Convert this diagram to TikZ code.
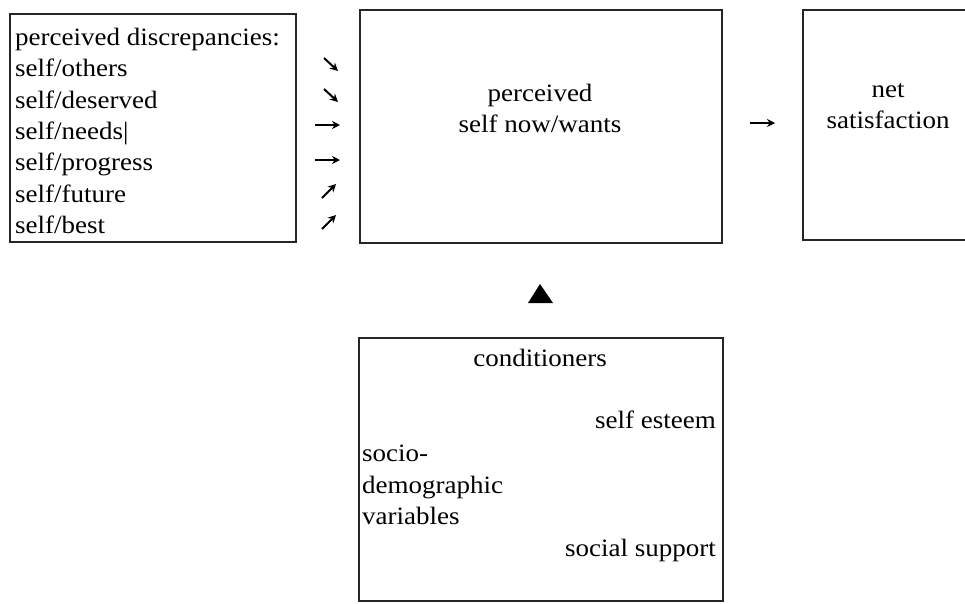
\documentclass[tikz,border=0pt]{standalone}
\usepackage{fontspec}
\setmainfont[FakeStretch=1.08]{Liberation Serif}
\usetikzlibrary{arrows.meta}
\begin{document}
\begin{tikzpicture}[x=1pt,y=-1pt,
  frame/.style={draw=black!85,line width=1.6pt},
  label/.style={font=\fontsize{25}{31}\selectfont,inner sep=0pt},
  smallarrow/.style={line width=2pt,-{Stealth[length=8pt,width=8pt]}}]
\useasboundingbox (0,0) rectangle (965,603);
% boxes
\draw[frame] (10,14) rectangle (296,242);
\draw[frame] (360,10) rectangle (722,243);
\draw[frame] (966,10) -- (803,10) -- (803,240) -- (966,240);
\draw[frame] (359,338) rectangle (723,601);
% discrepancy list
\node[label,anchor=base west] (d0) at (15,45) {perceived discrepancies:};
\node[label,anchor=base west] (d1) at (15,76) {self/others};
\node[label,anchor=base west] (d2) at (15,108) {self/deserved};
\node[label,anchor=base west] (d3) at (15,139) {self/needs|};
\node[label,anchor=base west] (d4) at (15,170) {self/progress};
\node[label,anchor=base west] (d5) at (15,202) {self/future};
\node[label,anchor=base west] (d6) at (15,233) {self/best};
% small arrows toward the central box
\coordinate (a1s) at (324,58);  \coordinate (a1e) at (338,71);
\coordinate (a2s) at (324,89);  \coordinate (a2e) at (338,102);
\coordinate (a3s) at (315,125); \coordinate (a3e) at (340,125);
\coordinate (a4s) at (315,160); \coordinate (a4e) at (340,160);
\coordinate (a5s) at (322,198); \coordinate (a5e) at (336,184);
\coordinate (a6s) at (322,229); \coordinate (a6e) at (336,215);
\foreach \i in {1,...,6} \draw[smallarrow] (a\i s) -- (a\i e);
% central box
\node[label,align=center] (pw) at (540,108) {perceived\\self now/wants};
% arrow to satisfaction
\coordinate (ns) at (750,123); \coordinate (ne) at (775,123);
\draw[smallarrow,line width=1.5pt] (ns) -- (ne);
\node[label,align=center] (sat) at (888,106) {net\\satisfaction};
% upward triangle
\fill (540,284) -- (553,303) -- (528,303) -- cycle;
% conditioners
\node[label,anchor=base] (c0) at (540,366) {conditioners};
\node[label,anchor=base east] (c1) at (716,428) {self esteem};
\node[label,anchor=base west] (c2) at (362,461) {socio-};
\node[label,anchor=base west] (c3) at (362,493) {demographic};
\node[label,anchor=base west] (c4) at (362,524) {variables};
\node[label,anchor=base east] (c5) at (716,556) {social support};
\end{tikzpicture}
\end{document}
